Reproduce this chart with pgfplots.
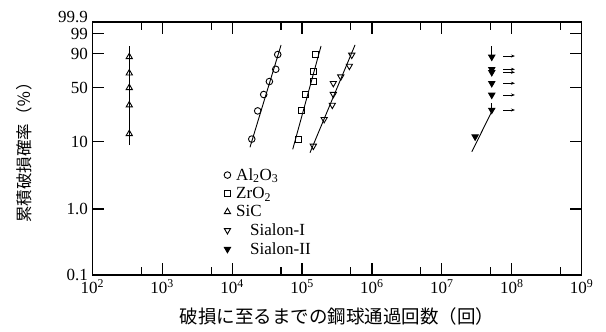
\documentclass[border=0pt]{standalone}
\usepackage{fontspec}
\setmainfont{Liberation Serif}
\newfontfamily\jp{Noto Sans CJK JP}
\usepackage{pgfplots}
\pgfplotsset{compat=1.18}
\usetikzlibrary{arrows.meta}
\newcommand\W{ln(-ln(1-\thisrow{F}/100))}
\pgfplotsset{
  pts/.style={only marks, mark options={line width=0.9pt, black, solid},
    legend image code/.code={\draw[##1] plot coordinates {(4pt,0pt)};}},
  fit/.style={black, line width=0.9pt, forget plot, mark=none},
}
\begin{document}
\begin{tikzpicture}
\useasboundingbox (-92.3pt,-57pt) rectangle (513.7pt,275pt);
\begin{axis}[
  at={(0pt,0pt)}, anchor=south west,
  width=489.4pt, height=253pt, scale only axis,
  xmode=log, xmin=100, xmax=1e9,
  ymin=-6.90726, ymax=1.93264,
  xtick={1e2,1e3,1e4,1e5,1e6,1e7,1e8,1e9},
  xticklabels={10\textsuperscript{2},10\textsuperscript{3},10\textsuperscript{4},10\textsuperscript{5},10\textsuperscript{6},10\textsuperscript{7},10\textsuperscript{8},10\textsuperscript{9}},
  minor xtick={500,5000,5e4,5e5,5e6,5e7,5e8},
  ytick={-6.90726,-4.60015,-2.25037,-0.366513,0.834032,1.527180},
  yticklabels={0.1,1.0,10,50,90,99},
  extra y ticks={1.93264},
  extra y tick labels={99.9},
  extra y tick style={yticklabel style={yshift=5pt}},
  major tick length=12pt, minor tick length=8pt,
  every tick/.style={black, line width=1.1pt},
  axis line style={line width=1.2pt, black},
  tick label style={font=\fontsize{17}{17}\selectfont},
  xticklabel style={yshift=-1pt},
  yticklabel style={xshift=-1pt},
  xlabel={\jp 破損に至るまでの鋼球通過回数（回）},
  ylabel={\jp 累積破損確率（％）},
  xlabel style={font=\fontsize{18.5}{19}\selectfont, yshift=-7pt},
  ylabel style={font=\fontsize{16.5}{18}\selectfont, yshift=19pt},
  legend cell align=left,
  legend style={draw=none, fill=none, at={(rel axis cs:0.269,0.428)}, anchor=north west,
    font=\fontsize{17}{17}\selectfont, inner sep=0pt, row sep=2.5pt,
    nodes={inner sep=1.5pt},
    /tikz/every odd column/.append style={column sep=4pt}},
  every axis plot/.append style={line width=0.9pt},
]
% data points (x = passes, F = cumulative failure probability in %)
\addplot[pts, mark=o, mark size=3.3pt] table[x=x, y expr=\W, row sep=\\]{
x F\\ 1.91e4 10.9\\ 2.32e4 26.6\\ 2.83e4 42.2\\ 3.41e4 57.8\\ 4.21e4 73.4\\ 4.49e4 89.1\\};
\addlegendentry{Al\textsubscript{2}O\textsubscript{3}}
\addplot[pts, mark=square, mark size=3.0pt] table[x=x, y expr=\W, row sep=\\]{
x F\\ 8.85e4 10.9\\ 9.68e4 26.6\\ 1.11e5 42.2\\ 1.47e5 57.8\\ 1.47e5 71.0\\ 1.58e5 89.1\\};
\addlegendentry{ZrO\textsubscript{2}}
\addplot[pts, mark=triangle, mark size=3.6pt] table[x=x, y expr=\W, row sep=\\]{
x F\\ 338 12.96\\ 338 31.48\\ 338 50\\ 338 68.52\\ 338 87.04\\};
\addlegendentry{SiC}
\addplot[pts, mark=triangle, mark size=3.6pt, mark options={rotate=180}] table[x=x, y expr=\W, row sep=\\]{
x F\\ 1.45e5 8.67\\ 2.07e5 20.6\\ 2.71e5 31.6\\ 2.80e5 42.5\\ 2.80e5 55.6\\ 3.58e5 64.0\\ 4.75e5 77.3\\ 5.14e5 88.7\\};
\addlegendentry{\hspace{14pt}Sialon-I}
\addplot[pts, mark=triangle*, mark size=3.6pt, mark options={rotate=180, fill=black}] table[x=x, y expr=\W, row sep=\\]{
x F\\ 2.99e7 11.8\\ 5.17e7 27.3\\ 5.17e7 41.7\\ 5.17e7 55.6\\ 5.17e7 69.6\\ 5.17e7 73.4\\ 5.17e7 87.0\\};
\addlegendentry{\hspace{14pt}Sialon-II}
% fitted lines
\addplot[fit] table[x=x, y expr=\W, row sep=\\]{x F\\ 1.80e4 8.30\\ 5.01e4 95.46\\};
\addplot[fit] table[x=x, y expr=\W, row sep=\\]{x F\\ 7.36e4 7.76\\ 1.87e5 94.96\\};
\addplot[fit] table[x=x, y expr=\W, row sep=\\]{x F\\ 338 8.96\\ 338 95.1\\};
\addplot[fit] table[x=x, y expr=\W, row sep=\\]{x F\\ 1.30e5 6.93\\ 5.73e5 95.5\\};
\addplot[fit] table[x=x, y expr=\W, row sep=\\]{x F\\ 2.68e7 7.16\\ 5.17e7 26.0\\};
\addplot[fit] table[x=x, y expr=\W, row sep=\\]{x F\\ 5.17e7 27.3\\ 5.17e7 33.2\\};
\addplot[fit] table[x=x, y expr=\W, row sep=\\]{x F\\ 5.17e7 87.0\\ 5.17e7 94.96\\};
% run-out arrows (Sialon-II)
\addplot[fit, line width=0.7pt, -{Stealth[length=4pt,width=3pt]}] table[x=x, y expr=\W, row sep=\\]{x F\\ 7.59e7 87.8\\ 1.11e8 87.8\\};
\addplot[fit, line width=0.7pt, -{Stealth[length=4pt,width=3pt]}] table[x=x, y expr=\W, row sep=\\]{x F\\ 7.59e7 73.4\\ 1.11e8 73.4\\};
\addplot[fit, line width=0.7pt, -{Stealth[length=4pt,width=3pt]}] table[x=x, y expr=\W, row sep=\\]{x F\\ 7.59e7 69.6\\ 1.11e8 69.6\\};
\addplot[fit, line width=0.7pt, -{Stealth[length=4pt,width=3pt]}] table[x=x, y expr=\W, row sep=\\]{x F\\ 7.59e7 55.6\\ 1.11e8 55.6\\};
\addplot[fit, line width=0.7pt, -{Stealth[length=4pt,width=3pt]}] table[x=x, y expr=\W, row sep=\\]{x F\\ 7.59e7 41.7\\ 1.11e8 41.7\\};
\addplot[fit, line width=0.7pt, -{Stealth[length=4pt,width=3pt]}] table[x=x, y expr=\W, row sep=\\]{x F\\ 7.59e7 27.3\\ 1.11e8 27.3\\};
\end{axis}
\end{tikzpicture}
\end{document}
